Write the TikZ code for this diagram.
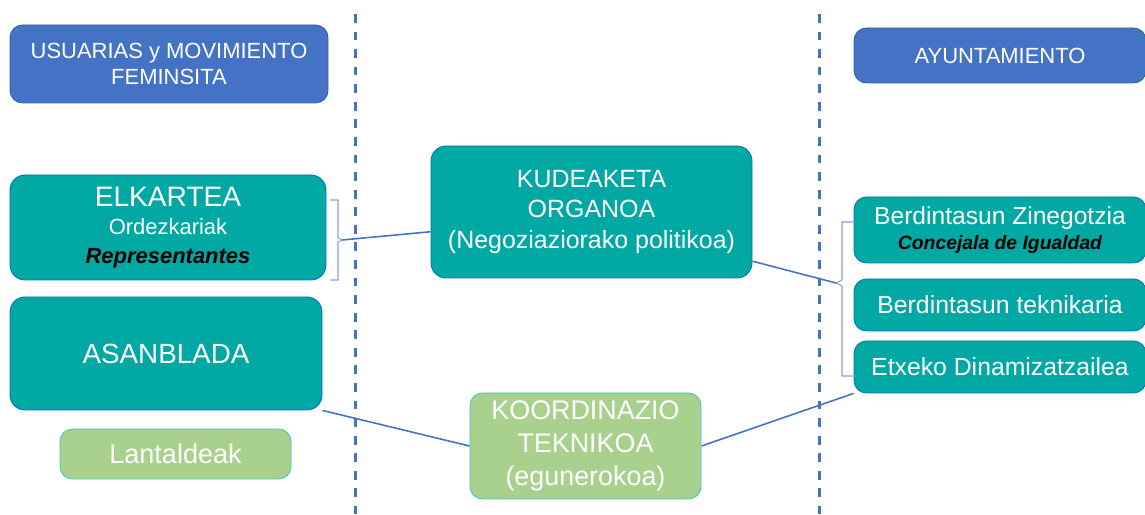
\documentclass[tikz,border=0pt]{standalone}
\usepackage{fontspec}
\setmainfont{Liberation Sans}
\definecolor{ppblue}{HTML}{4472C4}
\definecolor{ppteal}{HTML}{02A8A4}
\definecolor{ppgreen}{HTML}{A9D18E}
\begin{document}
\begin{tikzpicture}[
	bluebox/.style={rounded corners=0.25cm, fill=ppblue, draw=ppblue!85!black, line width=0.5pt, text=white, align=center, inner sep=0pt},
	tealbox/.style={rounded corners=0.3cm, fill=ppteal, draw=ppteal!70!blue, line width=0.5pt, text=white, align=center, inner sep=0pt},
	greenbox/.style={rounded corners=0.25cm, fill=ppgreen, draw=ppteal!70, line width=0.5pt, text=white, align=center, inner sep=0pt},
	link/.style={draw=ppblue, line width=0.9pt},
	bracket/.style={draw=ppblue!65, line width=0.6pt},
	divider/.style={draw=ppblue, line width=1.7pt, dash pattern=on 5pt off 5pt}]
	\useasboundingbox (0,0) rectangle (22.9,10.28);
	\draw[divider] (7.1,10.0) -- (7.1,0);
	\draw[divider] (16.38,10.0) -- (16.38,0);
	\node[bluebox, minimum width=6.36cm, minimum height=1.56cm, font=\fontsize{12.5}{14.5}\selectfont] at (3.38,9.0) (usuarias) {USUARIAS y MOVIMIENTO\\FEMINSITA};
	\node[bluebox, minimum width=5.84cm, minimum height=1.1cm, font=\fontsize{12.5}{14}\selectfont] at (20.0,9.17) (ayuntamiento) {AYUNTAMIENTO};
	\node[tealbox, minimum width=6.32cm, minimum height=2.1cm, font=\fontsize{12.5}{16}\selectfont] at (3.36,5.73) (elkartea) {{\fontsize{16}{16}\selectfont ELKARTEA}\\Ordezkariak\\\textbf{\textit{\color{black}Representantes}}};
	\node[tealbox, minimum width=6.42cm, minimum height=2.64cm, font=\fontsize{14.2}{17.5}\selectfont] at (11.83,6.04) (kudeaketa) {KUDEAKETA\\ORGANOA\\(Negoziaziorako politikoa)};
	\node[tealbox, minimum width=6.24cm, minimum height=2.26cm, font=\fontsize{15.8}{17}\selectfont] at (3.32,3.21) (asanblada) {ASANBLADA};
	\node[greenbox, minimum width=4.62cm, minimum height=1.0cm, font=\fontsize{15.4}{17}\selectfont] at (3.51,1.2) (lantaldeak) {Lantaldeak};
	\node[greenbox, minimum width=4.62cm, minimum height=2.12cm, font=\fontsize{15.3}{19}\selectfont] at (11.71,1.36) (koordinazio) {KOORDINAZIO\\TEKNIKOA\\(egunerokoa)};
	\node[tealbox, rounded corners=0.25cm, minimum width=5.84cm, minimum height=1.32cm, font=\fontsize{11}{14}\selectfont] at (20.0,5.68) (zinegotzia) {{\fontsize{14}{14}\selectfont Berdintasun Zinegotzia}\\\textbf{\textit{\color{black}Concejala de Igualdad}}};
	\node[tealbox, rounded corners=0.25cm, minimum width=5.84cm, minimum height=1.04cm, font=\fontsize{14.1}{15}\selectfont] at (20.0,4.18) (teknikaria) {Berdintasun teknikaria};
	\node[tealbox, rounded corners=0.25cm, minimum width=5.84cm, minimum height=1.04cm, font=\fontsize{14.1}{15}\selectfont] at (20.0,2.94) (dinamizatzailea) {Etxeko Dinamizatzailea};
	\draw[bracket] (6.6,6.28) -- (6.76,6.28) -- (6.76,5.52) -- (6.84,5.48) -- (6.76,5.44) -- (6.76,4.68) -- (6.6,4.68);
	\coordinate (leftbr) at (6.84,5.48);
	\draw[bracket] (17.1,5.84) -- (16.84,5.84) -- (16.84,4.68) -- (16.72,4.62) -- (16.84,4.56) -- (16.84,2.76) -- (17.1,2.76);
	\coordinate (rightbr) at (16.72,4.62);
	\path[link] (leftbr) edge (kudeaketa.187)
	(kudeaketa.-17) edge (rightbr)
	(asanblada.south east) edge (koordinazio.west)
	(koordinazio.east) edge (dinamizatzailea.south west);
\end{tikzpicture}
\end{document}
